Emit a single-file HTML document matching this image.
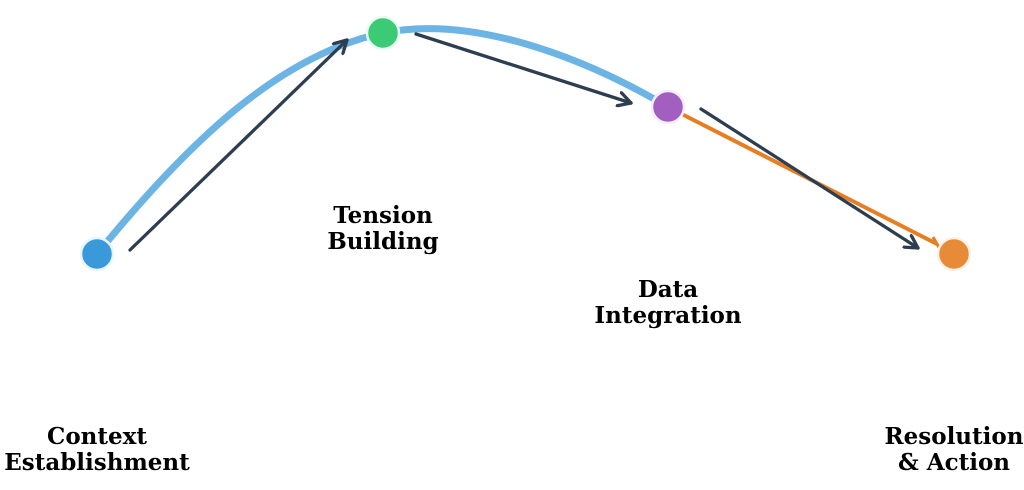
<!DOCTYPE html>
<html><head><meta charset="utf-8"><style>
html,body{margin:0;padding:0;background:#fff;}
svg{display:block}
text{font-family:"DejaVu Serif","Liberation Serif",serif;font-weight:bold;font-size:23px;fill:#000;text-anchor:middle}
</style></head><body>
<svg width="1024" height="490" viewBox="0 0 1024 490">
<defs>
<marker id="ah" viewBox="0 0 12 12" refX="10" refY="6" markerWidth="5" markerHeight="5" orient="auto" markerUnits="strokeWidth">
<path d="M1,1 L10,6 L1,11" fill="none" stroke="#2c3e50" stroke-width="2.4" stroke-linecap="round" stroke-linejoin="round"/>
</marker>
</defs>
<path d="M97,254 C190,140 280,55 383,33 C470,15 580,55 668,107" fill="none" stroke="#6cb4e4" stroke-width="7" stroke-linecap="round"/>
<line x1="668" y1="107" x2="937" y2="244" stroke="#e67e22" stroke-width="4"/>
<line x1="933" y1="237" x2="941" y2="251" stroke="#e67e22" stroke-width="3"/>
<g stroke="#2c3e50" stroke-width="3.3" stroke-linecap="round" fill="none">
<line x1="130" y1="250" x2="347" y2="40" marker-end="url(#ah)"/>
<line x1="416" y1="34" x2="631" y2="103" marker-end="url(#ah)"/>
<line x1="701" y1="109" x2="918" y2="248" marker-end="url(#ah)"/>
</g>
<circle cx="97" cy="254" r="16" fill="#3a9ad9" stroke="#eaf4fb" stroke-width="2.5"/>
<circle cx="383" cy="33" r="16" fill="#3ccb75" stroke="#eafaf1" stroke-width="2.5"/>
<circle cx="668" cy="107" r="16" fill="#a25fc0" stroke="#f5eefa" stroke-width="2.5"/>
<circle cx="954" cy="254" r="16" fill="#e88b38" stroke="#fdf2e8" stroke-width="2.5"/>
<text x="97" y="444">Context</text><text x="97" y="470">Establishment</text>
<text x="383" y="223">Tension</text><text x="383" y="249">Building</text>
<text x="668" y="297">Data</text><text x="668" y="323">Integration</text>
<text x="954" y="444">Resolution</text><text x="954" y="470">&amp; Action</text>
</svg>
</body></html>
